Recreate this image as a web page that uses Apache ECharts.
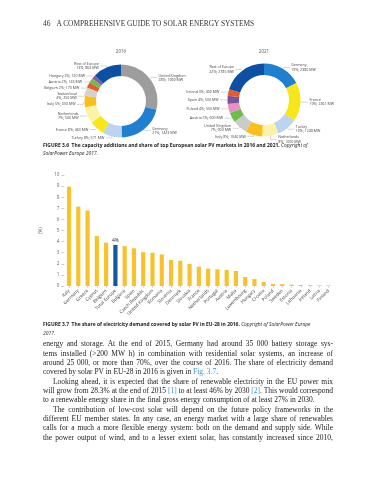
<!DOCTYPE html>
<html><head><meta charset="utf-8">
<script src="https://cdn.jsdelivr.net/npm/echarts@6/dist/echarts.min.js"></script>
<style>
html,body{margin:0;padding:0;background:#fff;}
#wrap{position:relative;width:388px;height:480px;overflow:hidden;}
#chart{position:absolute;left:0;top:0;width:388px;height:480px;}
.t{position:absolute;white-space:nowrap;}
.hdr{left:43px;top:17.5px;font-family:"Liberation Serif";font-size:7.4px;line-height:12px;color:#333;}
.hdr span{margin-left:6px;}
.cap{position:absolute;left:43px;font-family:"Open Sans";font-size:4.95px;color:#222;white-space:nowrap;}
.cap b{font-weight:700;}
.cap i{font-style:italic;}
.body{position:absolute;left:43px;top:339.3px;width:290px;font-family:"Liberation Serif";font-size:7.5px;color:#222;}
.ln{height:9.33px;line-height:9.33px;text-align:justify;text-align-last:justify;}
.ln.last{text-align-last:left;}
.ind{text-indent:10px;}
.lk{color:#3b9ad9;}
</style></head>
<body>
<div id="wrap">
<div id="chart"></div>
<div class="t hdr">46<span>A COMPREHENSIVE GUIDE TO SOLAR ENERGY SYSTEMS</span></div>
<div class="cap" style="top:141px;line-height:8px;"><b>FIGURE 3.6&nbsp; The capacity additions and share of top European solar PV markets in 2016 and 2021.</b> <i>Copyright of</i><br><i>SolarPower Europe 2017.</i></div>
<div class="cap" style="top:320px;line-height:8.6px;"><b>FIGURE 3.7&nbsp; The share of electricity demand covered by solar PV in EU-28 in 2016.</b> <i>Copyright of SolarPower Europe</i><br><i>2017.</i></div>
<div class="body">
<div class="ln">energy and storage. At the end of 2015, Germany had around 35 000 battery storage sys-</div>
<div class="ln">tems installed (&gt;200 MW h) in combination with residential solar systems, an increase of</div>
<div class="ln">around 25 000, or more than 70%, over the course of 2016. The share of electricity demand</div>
<div class="ln last">covered by solar PV in EU-28 in 2016 is given in <span class="lk">Fig. 3.7</span>.</div>
<div class="ln ind">Looking ahead, it is expected that the share of renewable electricity in the EU power mix</div>
<div class="ln">will grow from 28.3% at the end of 2015 <span class="lk">[1]</span> to at least 46% by 2030 <span class="lk">[2]</span>. This would correspond</div>
<div class="ln last">to a renewable energy share in the final gross energy consumption of at least 27% in 2030.</div>
<div class="ln ind">The contribution of low-cost solar will depend on the future policy frameworks in the</div>
<div class="ln">different EU member states. In any case, an energy market with a large share of renewables</div>
<div class="ln">calls for a much a more flexible energy system: both on the demand and supply side. While</div>
<div class="ln">the power output of wind, and to a lesser extent solar, has constantly increased since 2010,</div>
</div>
</div>
<script>
// ---- Figure 3.6 data ----
const names2016 = ['United Kingdom','Germany','Turkey','France','Netherlands','Italy','Switzerland','Belgium','Austria','Hungary','Rest of Europe'];
const share2016 = [28,21,8,8,7,5,4,2,2,2,13];
const mw2016 = [1969,1423,571,463,500,350,250,170,143,120,863];
const twoLine2016 = ['United Kingdom','Germany','Netherlands','Switzerland','Rest of Europe'];

const names2021 = ['Germany','France','Turkey','Netherlands','Italy','United Kingdom','Austria','Poland','Spain','Ireland','Rest of Europe'];
const share2021 = [19,19,10,8,8,7,5,4,4,3,22];
const mw2021 = [2380,2361,1248,1000,1040,900,600,550,500,400,2785];
const twoLine2021 = ['Germany','France','Turkey','Netherlands','United Kingdom','Rest of Europe'];

const pieYears = ['2016','2021'];

// ---- Figure 3.7 data ----
const barCategories = ['Italy','Germany','Greece','Cyprus','Belgium','Total Europe','Bulgaria','Spain','Czech Republic','United Kingdom','Romania','Slovenia','Denmark','Slovakia','France','Netherlands','Portugal','Austria','Malta','Luxembourg','Hungary','Croatia','Poland','Sweden','Estonia','Lithuania','Ireland','Latvia','Finland'];
const barValues = [8.95,7.15,6.8,4.5,3.9,3.7,3.6,3.4,3.05,3.0,2.85,2.35,2.28,1.98,1.74,1.56,1.5,1.44,1.35,0.81,0.63,0.36,0.18,0.17,0.12,0.09,0.08,0.06,0.05];
const highlightCategory = 'Total Europe';
const highlightLabel = '4%';
const yMin = 0, yMax = 10, yStep = 1;
const yAxisName = '(%)';

// ---- styles ----
const colorOf = {
  'United Kingdom':'#9d9d9d','Germany':'#1f7fd1','Turkey':'#bcd4ee','France':'#f6e61a',
  'Netherlands':'#fdf3a6','Italy':'#fbbf1c','Switzerland':'#d2d2d2','Belgium':'#e85a2a',
  'Austria':'#6cbf46','Hungary':'#8a5cae','Rest of Europe':'#0c4fa3','Poland':'#e790c2','Spain':'#7b51a2','Ireland':'#e85a2a'
};
const colorOf2021 = Object.assign({}, colorOf, {'United Kingdom':'#cbcbcb'});
const barYellow = '#f9c22c', barBlue = '#12589f';

function pieSeries(names, shares, mws, twoLine, cols, cx, cy){
  return {
    type:'pie', center:[cx,cy], radius:[25,36.5], startAngle:90, clockwise:true,
    silent:true, avoidLabelOverlap:true,
    label:{show:true, position:'outside', alignTo:'labelLine', fontSize:3.6, lineHeight:4.1,
      color:'#444', fontFamily:'Open Sans', distanceToLabelLine:1.5,
      formatter:p=>{const i=p.dataIndex; const n=names[i]; const s=shares[i]+'%; '+mws[i]+' MW';
        return twoLine.indexOf(n)>=0 ? n+'\n'+s : n+' '+s;}},
    labelLine:{show:true, length:1.5, length2:6, lineStyle:{color:'#b0b0b0', width:0.5}},
    itemStyle:{borderWidth:0},
    data:names.map((n,i)=>({name:n, value:mws[i], itemStyle:{color:cols[n]}}))
  };
}

const chart = echarts.init(document.getElementById('chart'), null, {renderer:'canvas'});
chart.setOption({
  animation:false,
  graphic:[
    {type:'text', x:121, y:52, style:{text:pieYears[0], align:'center', verticalAlign:'middle', fontSize:4.5, fill:'#555', fontFamily:'Open Sans'}},
    {type:'text', x:264, y:52, style:{text:pieYears[1], align:'center', verticalAlign:'middle', fontSize:4.5, fill:'#555', fontFamily:'Open Sans'}}
  ],
  grid:{left:64.4, top:175, width:268.9, height:111, containLabel:false},
  xAxis:{type:'category', data:barCategories, boundaryGap:true,
    axisLine:{show:false},
    axisTick:{show:true, alignWithLabel:true, length:2, lineStyle:{color:'#bbb', width:0.5}},
    axisLabel:{rotate:45, fontSize:4.6, color:'#444', margin:4, interval:0, fontFamily:'Open Sans'}},
  yAxis:{type:'value', min:yMin, max:yMax, interval:yStep,
    name:yAxisName, nameLocation:'middle', nameGap:11, nameRotate:90,
    nameTextStyle:{fontSize:4.6, color:'#555', fontFamily:'Open Sans'},
    axisLine:{show:false}, splitLine:{show:false},
    axisTick:{show:true, length:3, lineStyle:{color:'#999', width:0.5}},
    axisLabel:{fontSize:4.6, color:'#666', margin:5, fontFamily:'Open Sans'}},
  series:[
    pieSeries(names2016, share2016, mw2016, twoLine2016, colorOf, 121, 101),
    pieSeries(names2021, share2021, mw2021, twoLine2021, colorOf2021, 264, 100),
    {type:'bar', barWidth:4.2, silent:true,
     data:barCategories.map((c,i)=> c===highlightCategory
       ? {value:barValues[i], itemStyle:{color:barBlue},
          label:{show:true, position:'top', distance:2, formatter:highlightLabel, fontSize:5, color:'#333', fontFamily:'Open Sans'}}
       : {value:barValues[i], itemStyle:{color:barYellow}})}
  ]
});
</script>
</body></html>
